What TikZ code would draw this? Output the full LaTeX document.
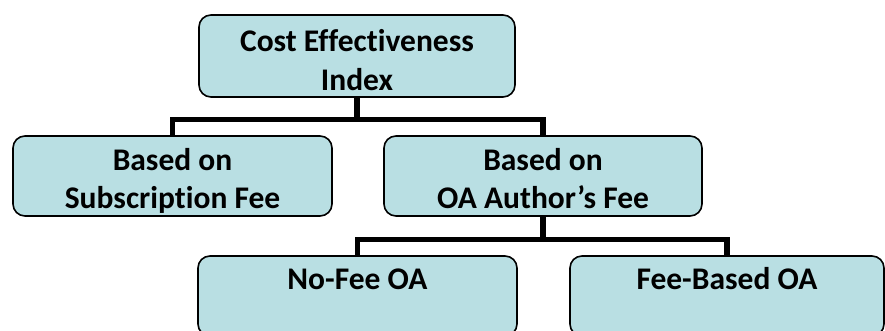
\documentclass[tikz,border=0pt]{standalone}
\usepackage{fontspec}
\setmainfont[Ligatures=NoCommon]{Carlito}
\usepackage{tikz}
\newcommand{\boxFont}[0]{\fontsize{31.5}{38.5}\selectfont\bfseries}
\definecolor{boxFill}{RGB}{185,223,227}

\begin{document}
\begin{tikzpicture}[x=1pt, y=-1pt]
  \tikzset{chart box/.style={draw=black, line width=1.6pt, fill=boxFill,
      rounded corners=12pt, minimum width=#1, minimum height=80pt, inner sep=0pt},
    box text/.style={font=\boxFont, align=center, anchor=base, inner sep=0pt},
    org line/.style={line width=5.5pt}}
  \useasboundingbox (0,0) rectangle (885,330);
  \node[chart box=316pt, minimum height=82pt] (cei) at (357,56) {};
  \node[chart box=319pt] (sub) at (172.5,176) {};
  \node[chart box=318pt] (oaf) at (543,176) {};
  \node[chart box=319pt] (nofee) at (357.5,296) {};
  \node[chart box=314pt] (feebased) at (727,296) {};
  \node[box text] (cei-t) at ([yshift=-76pt]cei.north) {Cost Effectiveness\\Index};
  \node[box text] (sub-t) at ([yshift=-73.5pt]sub.north) {Based on\\Subscription Fee};
  \node[box text] (oaf-t) at ([yshift=-73.5pt]oaf.north) {Based on\\OA Author’s Fee};
  \node[box text] (nofee-t) at ([yshift=-34pt]nofee.north) {No-Fee OA};
  \node[box text] (feebased-t) at ([yshift=-34pt]feebased.north) {Fee-Based OA};
  \draw[org line] (cei.south) -- ++(0,21.5) coordinate (fork1);
  \draw[org line] (sub.north) |- (fork1) -| (oaf.north);
  \draw[org line] (oaf.south) -- ++(0,22.5) coordinate (fork2);
  \draw[org line] (nofee.north) |- (fork2) -| (feebased.north);
\end{tikzpicture}
\end{document}
